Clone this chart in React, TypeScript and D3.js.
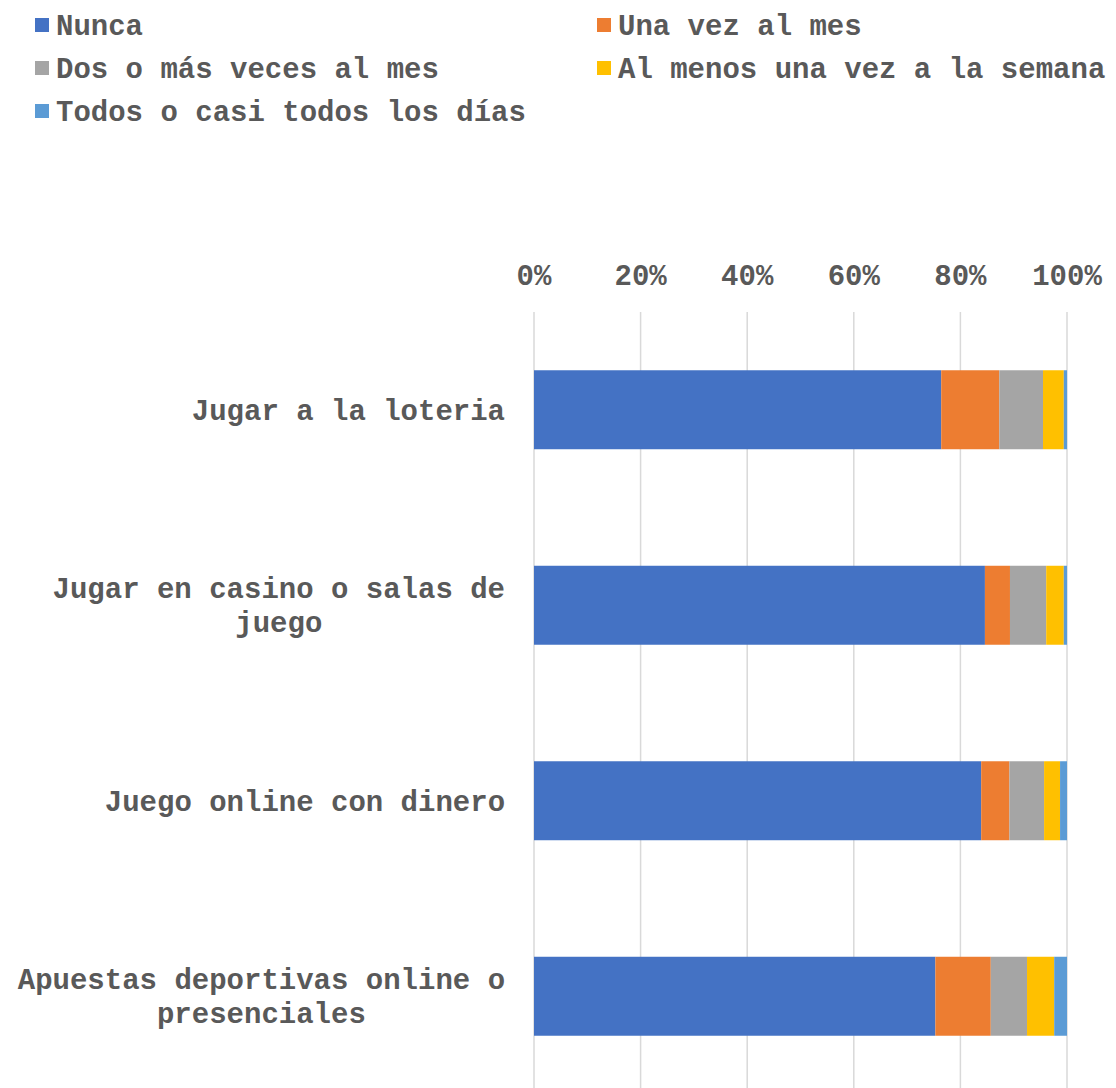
import React from "react";
import * as d3 from "d3";

const categories = [
  "Jugar a la loteria",
  "Jugar en casino o salas de juego",
  "Juego online con dinero",
  "Apuestas deportivas online o presenciales",
];
const categoryLines = [
  ["Jugar a la loteria"],
  ["Jugar en casino o salas de", "juego"],
  ["Juego online con dinero"],
  ["Apuestas deportivas online o", "presenciales"],
];
const seriesNames = [
  "Nunca",
  "Una vez al mes",
  "Dos o más veces al mes",
  "Al menos una vez a la semana",
  "Todos o casi todos los días",
];
const nunca = [76.4, 84.6, 83.9, 75.3];
const unaVez = [10.9, 4.7, 5.3, 10.4];
const dosOMas = [8.2, 6.8, 6.5, 6.8];
const semana = [3.9, 3.3, 3.0, 5.1];
const diario = [0.6, 0.6, 1.3, 2.4];
const tickValues = [0, 0.2, 0.4, 0.6, 0.8, 1];
const colors = ["#4472C4", "#ED7D31", "#A5A5A5", "#FFC000", "#5B9BD5"];

const W = 1116;
const H = 1088;
const FONT = "'Liberation Mono', 'Courier New', monospace";
const FS = 29;
const TEXT = "#595959";

export default function App() {
  const seriesValues = [nunca, unaVez, dosOMas, semana, diario];
  const rows = categories.map((c, i) => {
    const r: any = { category: c };
    seriesNames.forEach((s, j) => (r[s] = seriesValues[j][i]));
    return r;
  });
  const stack = d3.stack<any>().keys(seriesNames).offset(d3.stackOffsetExpand);
  const stacked = stack(rows);

  const x = d3.scaleLinear().domain([0, 1]).range([534, 1067]);
  const y = d3
    .scaleBand<string>()
    .domain(categories)
    .range([312, 1094])
    .paddingInner(0.596)
    .paddingOuter(0.298);

  const charW = FS * 0.6;
  const legendPos = [
    [35, 25],
    [597, 25],
    [35, 68],
    [597, 68],
    [35, 111],
  ];

  return (
    <svg
      width={W}
      height={H}
      style={{ position: "absolute", left: 0, top: 0, background: "#fff" }}
      fontFamily={FONT}
    >
      <rect width={W} height={H} fill="#fff" />
      {/* legend */}
      {seriesNames.map((s, i) => (
        <g key={s} transform={`translate(${legendPos[i][0]},${legendPos[i][1]})`}>
          <rect x={0} y={-7} width={14} height={14} fill={colors[i]} />
          <text
            x={21}
            y={0}
            dy="0.35em"
            fontSize={FS}
            fontWeight="bold"
            fill={TEXT}
          >
            {s}
          </text>
        </g>
      ))}
      {/* gridlines */}
      {tickValues.map((t) => (
        <line
          key={"g" + t}
          x1={x(t)}
          x2={x(t)}
          y1={312}
          y2={H}
          stroke="#D9D9D9"
          strokeWidth={1.5}
        />
      ))}
      {/* tick labels */}
      {tickValues.map((t) => (
        <text
          key={"t" + t}
          x={x(t)}
          y={275}
          dy="0.35em"
          textAnchor="middle"
          fontSize={FS}
          fontWeight="bold"
          fill={TEXT}
        >
          {d3.format(".0%")(t)}
        </text>
      ))}
      {/* bars */}
      {stacked.map((layer, i) => (
        <g key={layer.key} fill={colors[i]}>
          {layer.map((d: any, j: number) => (
            <rect
              key={j}
              x={x(d[0])}
              y={y(categories[j])}
              width={x(d[1]) - x(d[0])}
              height={y.bandwidth()}
            />
          ))}
        </g>
      ))}
      {/* category labels */}
      {categories.map((c, i) => {
        const lines = categoryLines[i];
        const maxW = Math.max(...lines.map((l) => l.length * charW));
        const cx = 505 - maxW / 2;
        const cy = (y(c) as number) + y.bandwidth() / 2;
        const lh = 34;
        const start = cy - ((lines.length - 1) * lh) / 2;
        return (
          <text
            key={c}
            fontSize={FS}
            fontWeight="bold"
            fill={TEXT}
            textAnchor="middle"
          >
            {lines.map((l, k) => (
              <tspan key={k} x={cx} y={start + k * lh} dy="0.35em">
                {l}
              </tspan>
            ))}
          </text>
        );
      })}
    </svg>
  );
}
